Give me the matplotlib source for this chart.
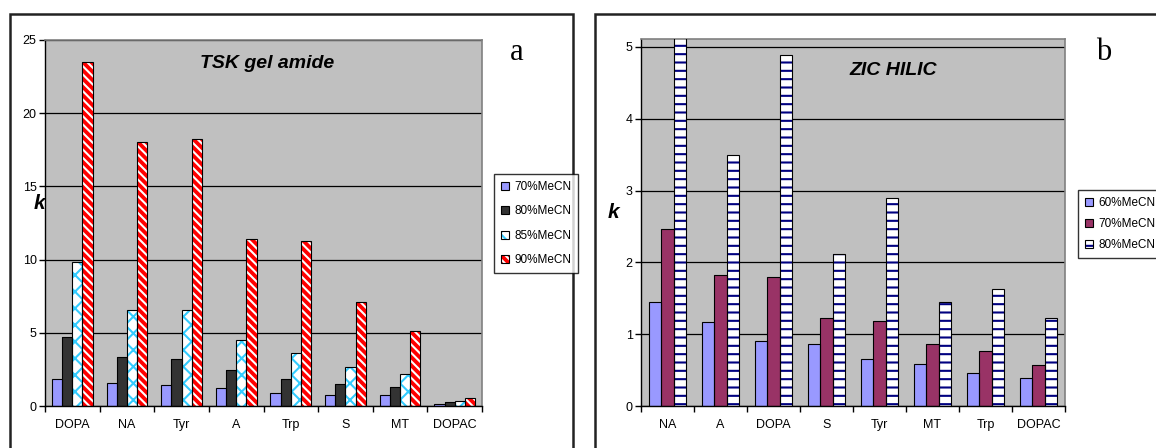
import numpy as np
import matplotlib
matplotlib.use("Agg")
import matplotlib.pyplot as plt
from matplotlib.patches import Patch, Rectangle
from matplotlib.legend_handler import HandlerTuple

# Dữ liệu panel a (TSK gel amide)
cats_a = ["DOPA", "NA", "Tyr", "A", "Trp", "S", "MT", "DOPAC"]
labels_a = ["70%MeCN", "80%MeCN", "85%MeCN", "90%MeCN"]
k70_a = [1.87, 1.57, 1.41, 1.23, 0.89, 0.77, 0.77, 0.16]
k80_a = [4.69, 3.37, 3.18, 2.48, 1.87, 1.50, 1.32, 0.27]
k85_a = [9.83, 6.53, 6.53, 4.50, 3.62, 2.66, 2.21, 0.36]
k90_a = [23.48, 18.06, 18.22, 11.42, 11.24, 7.08, 5.14, 0.55]

# Dữ liệu panel b (ZIC HILIC)
cats_b = ["NA", "A", "DOPA", "S", "Tyr", "MT", "Trp", "DOPAC"]
labels_b = ["60%MeCN", "70%MeCN", "80%MeCN"]
k60_b = [1.45, 1.17, 0.91, 0.86, 0.65, 0.59, 0.46, 0.39]
k70_b = [2.46, 1.83, 1.80, 1.22, 1.18, 0.86, 0.77, 0.57]
k80_b = [5.14, 3.49, 4.89, 2.12, 2.89, 1.45, 1.63, 1.23]

plt.rcParams['font.family'] = ['Liberation Sans', 'DejaVu Sans']
plt.rcParams['hatch.linewidth'] = 1.5

W, H = 1156, 448
fig = plt.figure(figsize=(W / 100, H / 100), dpi=100)


def px_axes(x0, y0, x1, y1):
    return fig.add_axes([x0 / W, 1 - y1 / H, (x1 - x0) / W, (y1 - y0) / H])


def style_axes(ax, cats, ymax, yticks):
    ax.set_facecolor('#C0C0C0')
    ax.set_xlim(0, len(cats))
    ax.set_ylim(0, ymax)
    ax.set_yticks(yticks)
    ax.set_yticklabels([str(t) for t in yticks], fontsize=9)
    ax.set_xticks(np.arange(len(cats) + 1))
    ax.set_xticklabels([])
    ax.set_xticks(np.arange(len(cats)) + 0.5, minor=True)
    ax.set_xticklabels(cats, minor=True, fontsize=9)
    ax.tick_params(axis='x', which='major', direction='out', length=4, width=1)
    ax.tick_params(axis='x', which='minor', length=0, pad=9)
    ax.tick_params(axis='y', direction='out', length=4, width=1, pad=2)
    ax.yaxis.grid(True, color='black', linewidth=0.9)
    ax.set_axisbelow(True)
    for s in ['top', 'right']:
        ax.spines[s].set_color('#808080')
        ax.spines[s].set_linewidth(1.2)
    for s in ['left', 'bottom']:
        ax.spines[s].set_color('black')
        ax.spines[s].set_linewidth(1.0)


def hatched_bars(ax, x, vals, width, face, hatch_col, hatch):
    ax.bar(x, vals, width, color=face, edgecolor=hatch_col, hatch=hatch, linewidth=0, zorder=2)
    ax.bar(x, vals, width, fill=False, edgecolor='black', linewidth=0.8, zorder=3)
    fill = Patch(facecolor=face, edgecolor=hatch_col, hatch=hatch, linewidth=0)
    edge = Patch(fill=False, edgecolor='black', linewidth=0.8)
    return (fill, edge)


# ---- panel a ----
ax_a = px_axes(45, 40, 482, 406)
style_axes(ax_a, cats_a, 25, [0, 5, 10, 15, 20, 25])
xa = np.arange(len(cats_a)) + 0.5
wa = 0.186
offs_a = (np.arange(4) - 1.5) * wa
h1 = hatched_bars(ax_a, xa + offs_a[0], k70_a, wa, '#9999FF', '#9999FF', None)
h2 = hatched_bars(ax_a, xa + offs_a[1], k80_a, wa, '#333333', '#333333', None)
h3 = hatched_bars(ax_a, xa + offs_a[2], k85_a, wa, 'white', '#33CCFF', 'xx')
h4 = hatched_bars(ax_a, xa + offs_a[3], k90_a, wa, '#FF0000', 'white', '\\\\\\\\')
ax_a.text(0.509, 0.937, "TSK gel amide", transform=ax_a.transAxes, ha='center', va='center',
          fontsize=14, fontweight='bold', style='italic')
leg_a = fig.legend([h1, h2, h3, h4], labels_a, handler_map={tuple: HandlerTuple(ndivide=1)},
                   loc='upper left', bbox_to_anchor=(494 / W, 1 - 174 / H), fontsize=8.5,
                   frameon=True, fancybox=False, handlelength=0.7, handleheight=0.7,
                   handletextpad=0.4, labelspacing=1.05, borderpad=0.6, borderaxespad=0)
leg_a.get_frame().set_edgecolor('black')
leg_a.get_frame().set_linewidth(1.0)
fig.text(517 / W, 1 - 53 / H, "a", family='Liberation Serif', fontsize=22, ha='center', va='center')
fig.text(39 / W, 1 - 203 / H, "k", fontsize=15, fontweight='bold', style='italic',
         ha='center', va='center', zorder=-1)

# ---- panel b ----
ax_b = px_axes(641, 39, 1065, 406)
style_axes(ax_b, cats_b, 5.11, [0, 1, 2, 3, 4, 5])
xb = np.arange(len(cats_b)) + 0.5
wb = 0.23
offs_b = (np.arange(3) - 1) * wb
g1 = hatched_bars(ax_b, xb + offs_b[0], k60_b, wb, '#9999FF', '#9999FF', None)
g2 = hatched_bars(ax_b, xb + offs_b[1], k70_b, wb, '#993366', '#993366', None)
g3 = hatched_bars(ax_b, xb + offs_b[2], k80_b, wb, 'white', '#000080', '--')
ax_b.text(0.595, 0.913, "ZIC HILIC", transform=ax_b.transAxes, ha='center', va='center',
          fontsize=14, fontweight='bold', style='italic')
leg_b = fig.legend([g1, g2, g3], labels_b, handler_map={tuple: HandlerTuple(ndivide=1)},
                   loc='upper left', bbox_to_anchor=(1078 / W, 1 - 190 / H), fontsize=8.5,
                   frameon=True, fancybox=False, handlelength=0.7, handleheight=0.7,
                   handletextpad=0.4, labelspacing=0.75, borderpad=0.6, borderaxespad=0)
leg_b.get_frame().set_edgecolor('black')
leg_b.get_frame().set_linewidth(1.0)
fig.text(1104 / W, 1 - 52 / H, "b", family='Liberation Serif', fontsize=22, ha='center', va='center')
fig.text(613 / W, 1 - 212 / H, "k", fontsize=15, fontweight='bold', style='italic',
         ha='center', va='center')

# khung viền ngoài
for x0, x1 in [(10, 573), (595, 1180)]:
    fig.add_artist(Rectangle((x0 / W, -0.1), (x1 - x0) / W, 1.1 - 14 / H,
                             transform=fig.transFigure, fill=False,
                             edgecolor='#222222', linewidth=1.8))

fig.savefig("out.png", dpi=100)
